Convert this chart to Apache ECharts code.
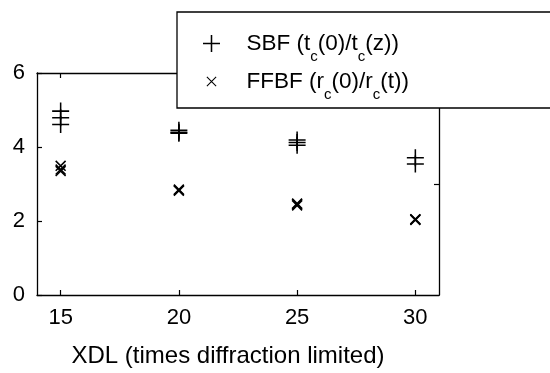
<!DOCTYPE html>
<html>
<head>
<meta charset="utf-8">
<script src="https://cdn.jsdelivr.net/npm/echarts@6/dist/echarts.min.js"></script>
<style>html,body{margin:0;padding:0;background:#fff;}#c{width:550px;height:373px;}</style>
</head>
<body>
<div id="c"></div>
<script>
// ---- data ----
const xTicks = [15, 20, 25, 30];
const yTicks = [0, 2, 4, 6];
const sbfX = [15, 15, 15, 20, 20, 20, 25, 25, 25, 30, 30];
const sbfY = [4.97, 4.79, 4.61, 4.45, 4.40, 4.37, 4.19, 4.12, 4.05, 3.71, 3.54];
const ffbfX = [15, 15, 15, 20, 20, 20, 25, 25, 25, 30, 30, 30];
const ffbfY = [3.49, 3.39, 3.35, 2.85, 2.83, 2.82, 2.47, 2.45, 2.42, 2.05, 2.04, 2.03];
const seriesNames = ['SBF', 'FFBF'];
const xTitle = 'XDL (times diffraction limited)';

const plusPath = 'path://M-1,-0.09L1,-0.09L1,0.09L-1,0.09Z M-0.09,-1L0.09,-1L0.09,1L-0.09,1Z';
const crossPath = 'path://M-1,-0.8L-0.8,-1L1,0.8L0.8,1Z M1,-0.8L-0.8,1L-1,0.8L0.8,-1Z';
const crossLegendPath = 'path://M-1,-0.85L-0.85,-1L1,0.85L0.85,1Z M1,-0.85L-0.85,1L-1,0.85L0.85,-1Z M-1.7,-1.7L-1.69,-1.7L-1.69,-1.69Z M1.7,1.7L1.69,1.7L1.69,1.69Z';

const font = 'Liberation Sans, Arial, sans-serif';
const chart = echarts.init(document.getElementById('c'), null, {renderer: 'canvas'});

const axisCommon = {
  axisLine: {show: true, onZero: false, lineStyle: {color: '#000', width: 1.3}},
  splitLine: {show: false}
};

chart.setOption({
  backgroundColor: '#fff',
  animation: false,
  grid: {left: 37, right: 111, top: 73, bottom: 77, containLabel: false},
  xAxis: [
    Object.assign({}, axisCommon, {
      type: 'value', position: 'bottom', min: 14, max: 31,
      axisTick: {show: true, inside: true, length: 5, customValues: xTicks, lineStyle: {color: '#000', width: 1.2}},
      axisLabel: {show: true, customValues: xTicks, margin: 12, color: '#000', fontSize: 22, fontFamily: font},
      name: xTitle, nameLocation: 'middle', nameGap: 49,
      nameTextStyle: {color: '#000', fontSize: 24, fontFamily: font, padding: [0, 20, 0, 0]}
    }),
    Object.assign({}, axisCommon, {
      type: 'value', position: 'top', min: 14, max: 31,
      axisTick: {show: true, inside: true, length: 5, customValues: xTicks, lineStyle: {color: '#000', width: 1.2}},
      axisLabel: {show: false}
    })
  ],
  yAxis: [
    Object.assign({}, axisCommon, {
      type: 'value', position: 'left', min: 0, max: 6, interval: 2,
      axisTick: {show: true, inside: true, length: 5, lineStyle: {color: '#000', width: 1.2}},
      axisLabel: {show: true, margin: 12, color: '#000', fontSize: 22, fontFamily: font}
    }),
    Object.assign({}, axisCommon, {
      type: 'value', position: 'right', min: 0, max: 6,
      axisTick: {show: true, inside: true, length: 5, customValues: [3], lineStyle: {color: '#000', width: 1.2}},
      axisLabel: {show: false}
    })
  ],
  legend: {
    orient: 'vertical', left: 177, top: 12,
    padding: [20, 250, 6, 26], itemGap: 6,
    itemWidth: 60, itemHeight: 17,
    backgroundColor: '#fff', borderColor: '#000', borderWidth: 1.3,
    data: [
      {name: seriesNames[0], icon: plusPath, itemStyle: {color: '#000'}},
      {name: seriesNames[1], icon: crossLegendPath, itemStyle: {color: '#000'}}
    ],
    formatter: function (name) {
      if (name === 'SBF') return '{n|SBF (t}{s|c}{n|(0)/t}{s|c}{n|(z))}';
      return '{n|FFBF (r}{s|c}{n|(0)/r}{s|c}{n|(t))}';
    },
    textStyle: {
      color: '#000', fontFamily: font,
      rich: {
        n: {fontSize: 22.5, fontFamily: font, color: '#000', lineHeight: 26},
        s: {fontSize: 15, fontFamily: font, color: '#000', padding: [26, 0, 0, 0]}
      }
    }
  },
  series: [
    {
      name: seriesNames[0], type: 'scatter', xAxisIndex: 0, yAxisIndex: 0,
      symbol: plusPath, symbolSize: 17,
      itemStyle: {color: '#000', opacity: 1},
      data: sbfX.map((x, i) => [x, sbfY[i]])
    },
    {
      name: seriesNames[1], type: 'scatter', xAxisIndex: 0, yAxisIndex: 0,
      symbol: crossPath, symbolSize: 11,
      itemStyle: {color: '#000', opacity: 1},
      data: ffbfX.map((x, i) => [x, ffbfY[i]])
    }
  ]
});
</script>
</body>
</html>
